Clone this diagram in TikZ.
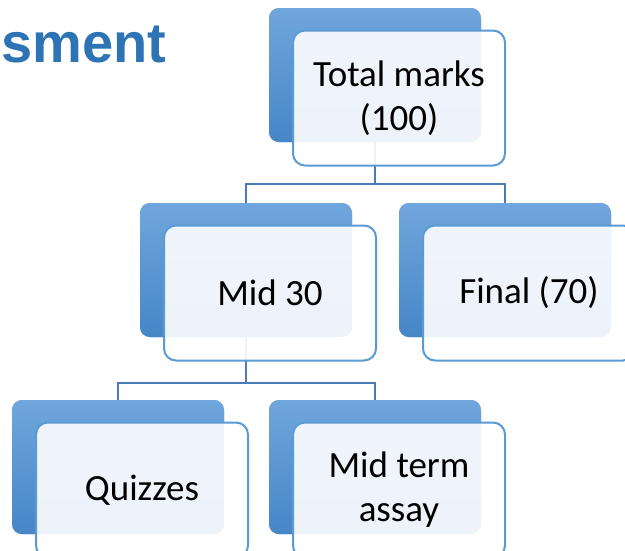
\documentclass[tikz,border=0pt]{standalone}
\usepackage{fontspec}
\setmainfont{Carlito}
\newfontfamily\titlefont{Liberation Sans}
\definecolor{bluetop}{RGB}{112,166,220}
\definecolor{bluebot}{RGB}{70,134,199}
\definecolor{frontline}{RGB}{91,155,213}
\definecolor{connblue}{RGB}{72,124,184}
\definecolor{titleblue}{RGB}{46,116,181}
\tikzset{
  backbox/.style={rounded corners=10pt, minimum width=212pt, minimum height=134pt,
    top color=bluetop, bottom color=bluebot, draw=none, inner sep=0pt},
  frontbox/.style={rounded corners=12pt, minimum width=212pt, minimum height=135pt,
    draw=frontline, line width=2pt, fill=white, fill opacity=0.9, text opacity=1,
    align=center, font=\fontsize{37}{44}\selectfont, inner sep=0pt},
  conn/.style={draw=connblue, line width=2.5pt},
}
\begin{document}
\begin{tikzpicture}[x=1pt,y=-1pt]
\useasboundingbox (0,0) rectangle (625,550);
\clip (0,0) rectangle (625,550);
\fill[white] (0,0) rectangle (625,550);
\node[anchor=base west, inner sep=0pt, text=titleblue, font=\titlefont\bfseries\fontsize{56}{60}\selectfont] (title) at (1,62) {sment};
% back boxes
\node[backbox] (tb) at (375,75) {};
\node[backbox] (mb) at (246,270) {};
\node[backbox] (fb) at (505,270) {};
\node[backbox] (qb) at (118,467) {};
\node[backbox] (ab) at (375,467) {};
% connectors
\draw[conn] (tb.south) -- ++(0,42) -| (mb.north);
\draw[conn] (tb.south) -- ++(0,42) -| (fb.north);
\draw[conn] (mb.south) -- ++(0,46) -| (qb.north);
\draw[conn] (mb.south) -- ++(0,46) -| (ab.north);
% redraw back boxes over connector ends
\node[backbox] at (tb) {};
\node[backbox] at (mb) {};
\node[backbox] at (fb) {};
\node[backbox] at (qb) {};
\node[backbox] at (ab) {};
% front boxes
\node[frontbox] (t) at (399,98) {Total marks\\(100)};
\node[frontbox] (m) at (270,293) {Mid 30};
\node[frontbox] (f) at (529,293) {Final (70)};
\node[frontbox] (q) at (142,490) {Quizzes};
\node[frontbox] (a) at (399,490) {Mid term\\assay};
\end{tikzpicture}
\end{document}
